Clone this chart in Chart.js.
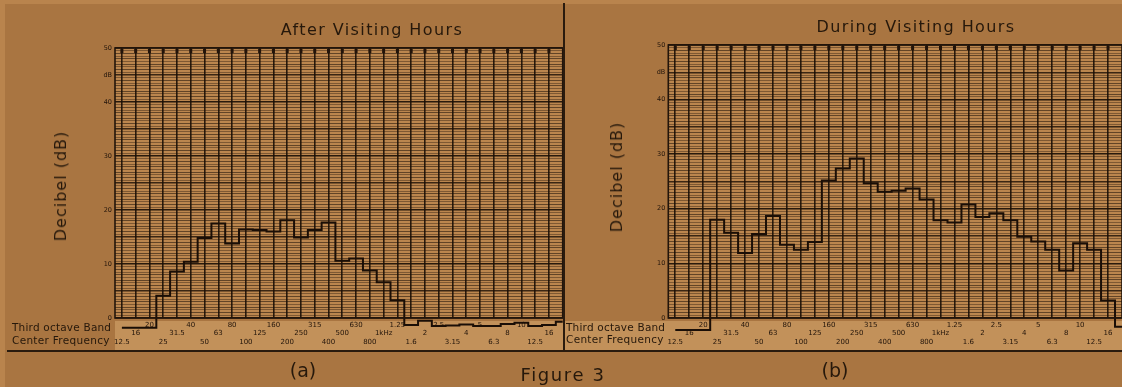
<!DOCTYPE html>
<html>
<head>
<meta charset="utf-8">
<script src="https://cdn.jsdelivr.net/npm/chart.js@4.4.1/dist/chart.umd.min.js"></script>
<style>
  html, body { margin: 0; padding: 0; }
  body { width: 1122px; height: 387px; background: #b9844d; position: relative; overflow: hidden;
         font-family: 'DejaVu Sans', sans-serif; color: #26180b; }
  #sheet { position: absolute; left: 5px; top: 4px; right: 0; bottom: 0; background: #a97541; }
  canvas { position: absolute; }
  .txt { position: absolute; white-space: nowrap; line-height: 1; }
  .ctr { transform: translate(-50%, -50%); }
  .rot { transform: translate(-50%, -50%) rotate(-90deg); }
  .rule { position: absolute; background: #2a1b0e; }
</style>
</head>
<body>
<div id="sheet"></div>
<canvas id="chartA" width="565" height="360" style="left:0;top:0"></canvas>
<canvas id="chartB" width="558" height="360" style="left:564px;top:0"></canvas>

<div class="rule" style="left:563px;top:3px;width:2px;height:349px"></div>
<div class="rule" style="left:7px;top:350px;width:1115px;height:2px"></div>

<div class="txt ctr" style="left:372px;top:30px;font-size:16px;letter-spacing:1.4px">After Visiting Hours</div>
<div class="txt ctr" style="left:916px;top:27px;font-size:16px;letter-spacing:1.4px">During Visiting Hours</div>
<div class="txt rot" style="left:61px;top:186px;font-size:16px;letter-spacing:1px">Decibel (dB)</div>
<div class="txt rot" style="left:617px;top:177px;font-size:16px;letter-spacing:1px">Decibel (dB)</div>

<div class="txt" style="left:12px;top:322px;font-size:10.5px;letter-spacing:0.2px">Third octave Band</div>
<div class="txt" style="left:12px;top:335px;font-size:10.5px;letter-spacing:0.3px">Center Frequency</div>
<div class="txt" style="left:566px;top:322px;font-size:10.5px;letter-spacing:0.2px">Third octave Band</div>
<div class="txt" style="left:566px;top:334px;font-size:10.5px;letter-spacing:0.3px">Center Frequency</div>

<div class="txt ctr" style="left:303px;top:370px;font-size:19px">(a)</div>
<div class="txt ctr" style="left:563px;top:375px;font-size:18px;letter-spacing:1.6px">Figure 3</div>
<div class="txt ctr" style="left:835px;top:370px;font-size:19px">(b)</div>

<script>
// third-octave band centre frequencies (Hz up to 800, then kHz)
const bandLabels = ['12.5', '16', '20', '25', '31.5', '40', '50', '63', '80', '100', '125', '160',
                    '200', '250', '315', '400', '500', '630', '800', '1kHz', '1.25', '1.6', '2', '2.5',
                    '3.15', '4', '5', '6.3', '8', '10', '12.5', '16'];

// dB per band (last value is the stub at the right edge of the sheet)
const afterLevels  = [-1.8, -1.8, -1.8, 4.1, 8.6, 10.4, 14.8, 17.5, 13.8, 16.4, 16.3, 16.0,
                      18.1, 14.9, 16.3, 17.7, 10.6, 11.0, 8.8, 6.6, 3.3, -1.3, -0.5, -1.5,
                      -1.4, -1.2, -1.5, -1.5, -1.1, -0.9, -1.5, -1.3, -0.7];
const duringLevels = [-2.2, -2.2, -2.2, 18.0, 15.6, 11.9, 15.4, 18.7, 13.4, 12.5, 13.9, 25.2,
                      27.4, 29.2, 24.7, 23.1, 23.3, 23.7, 21.7, 17.9, 17.5, 20.8, 18.5, 19.2,
                      17.9, 14.9, 14.0, 12.5, 8.7, 13.7, 12.5, 3.2, -1.6];

const yLabels = { 0: '0', 10: '10', 20: '20', 30: '30', 40: '40', 45: 'dB', 50: '50' };
const INK = '#22140a';

const paper = {
  id: 'paper',
  beforeDraw(chart, args, opts) {
    const { ctx, chartArea: a } = chart;
    ctx.save();
    ctx.fillStyle = '#c2915a';
    ctx.fillRect(opts.bandLeft, a.bottom + 3, chart.width - opts.bandLeft, 29);
    ctx.fillStyle = '#bb864e';
    ctx.fillRect(a.left, a.top, a.right - a.left, a.bottom - a.top);
    ctx.restore();
  },
  afterDatasetsDraw(chart) {
    const { ctx, chartArea: a, scales } = chart;
    ctx.save();
    ctx.fillStyle = INK;
    // small nubs at the top of each vertical rule
    scales.x.ticks.forEach(t => {
      const px = scales.x.getPixelForValue(t.value);
      ctx.fillRect(px - 1.5, a.top + 1, 3, 4);
    });
    ctx.strokeStyle = INK;
    ctx.lineWidth = 1.6;
    ctx.strokeRect(a.left, a.top, a.right - a.left, a.bottom - a.top);
    ctx.restore();
  }
};

function makeChart(id, levels, pad, bandLeft) {
  return new Chart(document.getElementById(id), {
    type: 'line',
    data: {
      datasets: [{
        data: levels.map((v, i) => ({ x: i, y: v })),
        stepped: 'middle',
        borderColor: '#1a0e06',
        borderWidth: 2,
        pointRadius: 0,
        fill: false,
        clip: false
      }]
    },
    options: {
      responsive: false,
      animation: false,
      devicePixelRatio: 1,
      layout: { padding: pad },
      plugins: { legend: { display: false }, tooltip: { enabled: false }, paper: { bandLeft } },
      scales: {
        x: {
          type: 'linear', min: -0.5, max: 32,
          afterBuildTicks: s => { s.ticks = bandLabels.map((_, i) => ({ value: i })); },
          afterFit: s => { s.height = 42; },
          border: { display: false },
          grid: { drawTicks: false, color: 'rgba(26,14,5,0.9)', lineWidth: 1.6 },
          ticks: {
            autoSkip: false, maxRotation: 0, padding: 3, color: INK,
            font: { family: 'DejaVu Sans', size: 7, lineHeight: 1.2 },
            callback: v => {
              const row = [2, 1, 0][v % 3];
              return Array(row).fill('').concat(bandLabels[v]);
            }
          }
        },
        y: {
          min: 0, max: 50,
          afterBuildTicks: s => {
            const t = [];
            for (let v = 0; v <= 50; v += 0.5) t.push({ value: v });
            s.ticks = t;
          },
          afterFit: s => { s.width = 40; },
          border: { display: false },
          grid: {
            drawTicks: false,
            color: c => {
              const v = c.tick.value;
              if (v % 10 === 0) return 'rgba(26,14,5,0.9)';
              if (v % 5 === 0) return 'rgba(26,14,5,0.8)';
              if (v % 1 === 0) return 'rgba(26,14,5,0.55)';
              return 'rgba(26,14,5,0.38)';
            },
            lineWidth: c => (c.tick.value % 5 === 0 ? 1.5 : 1)
          },
          ticks: {
            autoSkip: false, padding: 3, color: INK,
            font: { family: 'DejaVu Sans', size: 6.5 },
            callback: v => yLabels[v] || ''
          }
        }
      }
    },
    plugins: [paper]
  });
}

makeChart('chartA', afterLevels, { left: 75, top: 48, right: 2.3, bottom: 0 }, 115);
makeChart('chartB', duringLevels, { left: 64.3, top: 45, right: 0, bottom: 0 }, 0);
</script>
</body>
</html>
